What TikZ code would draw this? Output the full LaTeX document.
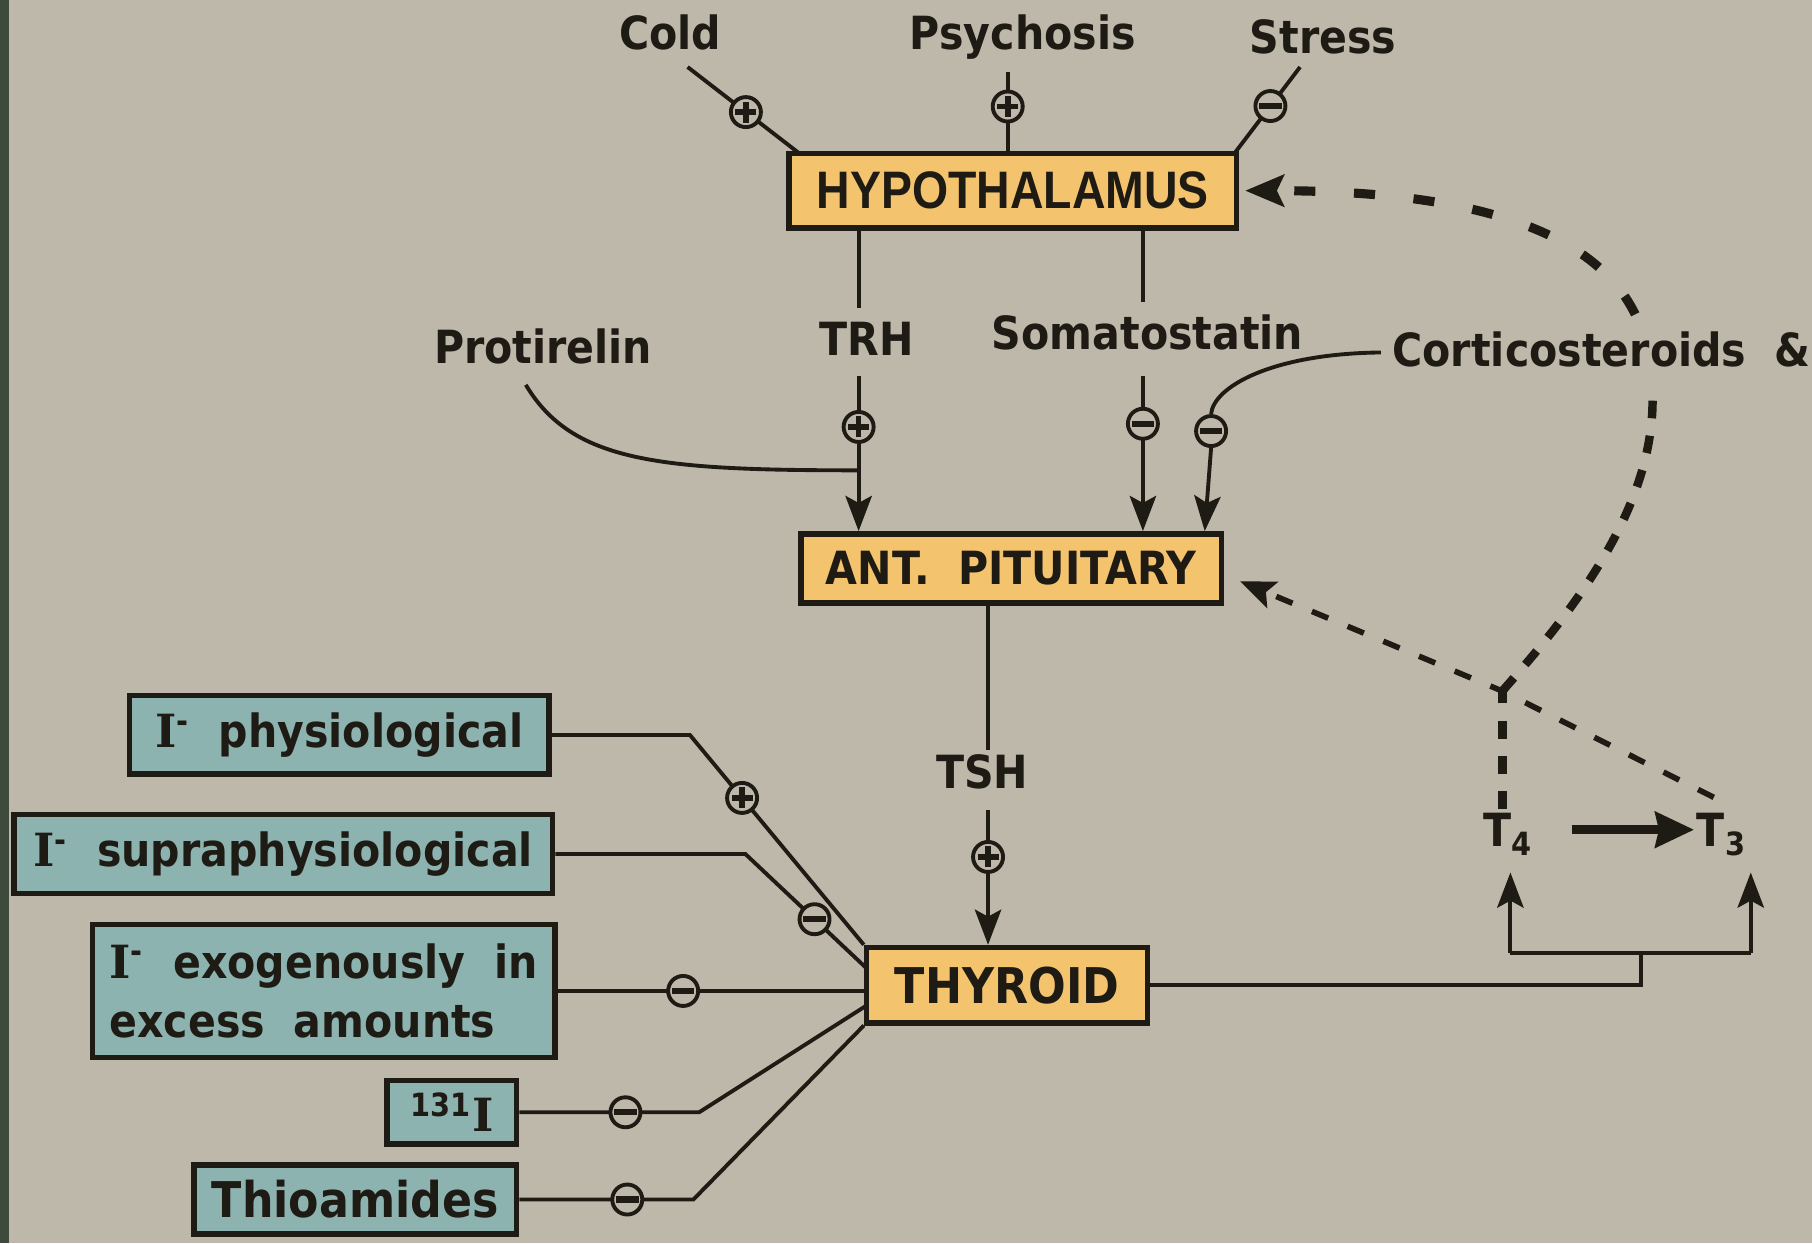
\documentclass[tikz,border=0pt]{standalone}
\usepackage{fontspec}
\newfontfamily\lab[FakeStretch=0.9]{DejaVu Sans}
\newfontfamily\hypf[FakeStretch=0.88]{Liberation Sans}
\newfontfamily\serf{DejaVu Serif}
\usetikzlibrary{arrows.meta,calc}
\definecolor{bg}{HTML}{BEB8AA}
\definecolor{org}{HTML}{F4C36E}
\definecolor{tealbox}{HTML}{8DB3B1}
\definecolor{ink}{HTML}{1E1A14}
\definecolor{stripc}{HTML}{3E4A3C}
\begin{document}
\begin{tikzpicture}[x=0.011556cm,y=-0.011556cm,
  box/.style={draw=ink, line width=1.6pt, inner sep=0pt, align=center, text=ink},
  obox/.style={box, fill=org, font=\lab\bfseries\fontsize{14}{16}\selectfont},
  tbox/.style={box, fill=tealbox, font=\lab\bfseries\fontsize{13}{16}\selectfont},
  lbl/.style={font=\lab\bfseries\fontsize{13}{15}\selectfont, text=ink, inner sep=1pt},
  conn/.style={draw=ink, line width=1.1pt},
  arr/.style={conn, -{Stealth[length=10pt,width=7.5pt,inset=2pt]}},
  dA/.style={draw=ink, line width=2.6pt, dash pattern=on 6pt off 11pt},
  dB/.style={draw=ink, line width=1.6pt, dash pattern=on 5pt off 6pt},
  dC/.style={draw=ink, line width=2.4pt, dash pattern=on 5pt off 5pt},
  sgn/.style={circle, draw=ink, solid, line width=1.1pt, fill=bg, minimum size=0.3cm, inner sep=0pt},
  plus/.style={sgn, path picture={\draw[ink,line width=1.6pt,-]
     ([xshift=-3pt]path picture bounding box.center) -- ([xshift=3pt]path picture bounding box.center)
     ([yshift=-3pt]path picture bounding box.center) -- ([yshift=3pt]path picture bounding box.center);}},
  minus/.style={sgn, path picture={\draw[ink,line width=1.8pt,-]
     ([xshift=-3.2pt]path picture bounding box.center) -- ([xshift=3.2pt]path picture bounding box.center);}}
]
\useasboundingbox (0,0) rectangle (1568,1076);
\fill[bg] (0,0) rectangle (1568,1076);
\fill[stripc] (0,0) rectangle (8,1076);

% main boxes
\node[obox, minimum width=4.472cm, minimum height=0.740cm, font=\hypf\bfseries\fontsize{15}{17}\selectfont] (hyp) at (876.5,165) {HYPOTHALAMUS};
\node[obox, minimum width=4.206cm, minimum height=0.693cm, font=\lab\bfseries\fontsize{13}{16}\selectfont] (ap) at (875,492) {ANT.\ \ PITUITARY};
\node[obox, minimum width=2.808cm, minimum height=0.751cm] (thy) at (871.5,852.5) {THYROID};

% left boxes
\node[tbox, minimum width=4.195cm, minimum height=0.786cm] (ip) at (293.5,636) {{\serf I}\textsuperscript{-}\ \ physiological};
\node[tbox, minimum width=5.385cm, minimum height=0.786cm] (is) at (245,739) {{\serf I}\textsuperscript{-}\ \ supraphysiological};
\node[tbox, minimum width=4.622cm, minimum height=1.329cm, align=left] (ie) at (280,857.5) {{\serf I}\textsuperscript{-}\ \ exogenously\ \ in\\[1pt]excess\ \ amounts};
\node[tbox, minimum width=1.294cm, minimum height=0.636cm] (i131) at (391,962.5) {\textsuperscript{131}{\serf I}};
\node[tbox, minimum width=3.224cm, minimum height=0.693cm, font=\lab\bfseries\fontsize{14}{16}\selectfont] (thio) at (307.5,1038) {Thioamides};

% labels
\node[lbl] (cold) at (580,28) {Cold};
\node[lbl] (psy) at (885,32) {Psychosis};
\node[lbl] (str) at (1145,32) {Stress};
\node[lbl] (trh) at (750,293) {TRH};
\node[lbl] (som) at (993,288) {Somatostatin};
\node[lbl] (pro) at (470,300) {Protirelin};
\node[lbl] (cort) at (1386,302) {Corticosteroids\ \ \&};
\node[lbl] (tsh) at (850,668) {TSH};
\node[lbl] (t4) at (1305,722) {T\textsubscript{4}};
\node[lbl] (t3) at (1490,722) {T\textsubscript{3}};

% coordinates
\coordinate (c0) at (595,58);
\coordinate (c1) at (692,133);
\coordinate (p0) at (872,62);
\coordinate (st0) at (1125,58);
\coordinate (st1) at (1068,133);
\coordinate (trhx) at (743,0);
\coordinate (somx) at (989,0);
\coordinate (pr0) at (455,333);
\coordinate (pr1) at (743,407);
\coordinate (k0) at (1195,305);
\coordinate (Y) at (1300,598);
\coordinate (dtop) at (1430,342);
\coordinate (dup) at (1415,272);
\coordinate (t3d) at (1483,690);
\coordinate (t4d) at (1300,700);
\coordinate (apt) at (1073,503);
\coordinate (tA) at (1360,718);
\coordinate (tB) at (1466,718);
\coordinate (j) at (1420,857);
\coordinate (ja) at (1420,825);
\coordinate (jl) at (1307,825);
\coordinate (jr) at (1515,825);
\coordinate (a4) at (1307,755);
\coordinate (a3) at (1515,755);

% top inputs
\draw[conn] (c0) -- node[plus,pos=0.52] (s1) {} (c1);
\draw[conn] (p0) -- node[plus,pos=0.44] (s2) {} (p0 |- hyp.north);
\draw[conn] (st0) -- node[minus,pos=0.45] (s3) {} (st1);

% TRH
\draw[conn] (trhx |- hyp.south) -- ($(trhx |- trh.north)+(0,-8)$);
\draw[arr] ($(trhx |- trh.south)+(0,14)$) -- node[plus,pos=0.33] (s4) {} (trhx |- ap.north);
\draw[conn] (pr0) .. controls (495,400) and (570,407) .. (pr1);

% Somatostatin
\draw[conn] (somx |- hyp.south) -- ($(somx |- som.north)+(0,-8)$);
\draw[arr] ($(somx |- som.south)+(0,18)$) -- node[minus,pos=0.31] (s5) {} (somx |- ap.north);

% Corticosteroids
\node[minus] (s6) at (1048,373) {};
\draw[conn] (k0) .. controls (1100,306) and (1050,335) .. (s6.north);
\draw[arr] (s6.south) -- ($(ap.north east)+(-17,0)$);

% dashed feedback
\draw[dA, -{Stealth[length=11pt,width=9pt,inset=2pt]}] (dup) .. controls (1375,190) and (1250,165) .. ($(hyp.east)+(5,0)$);
\draw[dC] (Y) .. controls (1360,530) and (1432,440) .. (dtop);
\draw[dC] (t4d) -- (Y);
\draw[dB, -{Stealth[length=10pt,width=8pt,inset=2pt]}] (t3d) -- (Y) -- (apt);

% TSH
\draw[conn] (ap.south) ++(-20,0) coordinate (tshx) -- (tshx |- tsh.north);
\draw[arr] ($(tshx |- tsh.south)+(0,14)$) -- node[plus,pos=0.35] (s7) {} (tshx |- thy.north);

% T4 -> T3
\draw[draw=ink, line width=2.7pt, -{Stealth[length=11pt,width=10pt,inset=1pt]}] (tA) -- (tB);

% thyroid output
\draw[conn] (thy.east) -- (thy.east -| j) -- (ja);
\draw[conn] (jl) -- (jr);
\draw[arr] (jl) -- (a4);
\draw[arr] (jr) -- (a3);

% left inputs
\draw[conn] (ip.east) -- (597,636) -- node[plus,pos=0.30] (s8) {} (thy.north west);
\draw[conn] (is.east) -- (645,739) -- node[minus,pos=0.57] (s9) {} (750,838);
\draw[conn] (ie.east) -- node[minus,pos=0.41] (s10) {} (ie.east -| thy.west);
\draw[conn] (i131.east) -- node[minus,pos=0.59] (s11) {} (605,962.5) -- (750,870);
\draw[conn] (thio.east) -- node[minus,pos=0.62] (s12) {} (600,1038) -- (thy.south west);
\end{tikzpicture}
\end{document}
